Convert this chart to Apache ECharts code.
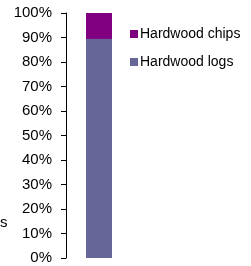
<!DOCTYPE html>
<html>
<head>
<meta charset="utf-8">
<script src="https://cdn.jsdelivr.net/npm/echarts@6/dist/echarts.min.js"></script>
<style>
  html, body { margin: 0; padding: 0; background: #fff; }
  #chart { width: 251px; height: 266px; }
</style>
</head>
<body>
<div id="chart"></div>
<script>
// 数据
const categories = ['Hardwoods'];
const logsValues = [89.4];
const chipsValues = [10.6];
const seriesNames = ['Hardwood chips', 'Hardwood logs'];
const yTicks = [0, 10, 20, 30, 40, 50, 60, 70, 80, 90, 100];

var myChart = echarts.init(document.getElementById('chart'));

var option = {
    animation: false,
    textStyle: { fontFamily: 'Liberation Sans, Arial, sans-serif' },
    grid: {
        left: 66,
        top: 13,
        width: 66,
        bottom: 8,
        containLabel: false
    },
    legend: {
        orient: 'vertical',
        left: 125,
        top: 22,
        itemWidth: 8,
        itemHeight: 8,
        itemGap: 14,
        icon: 'rect',
        data: seriesNames,
        textStyle: { fontSize: 14, color: '#000', padding: [0, 0, 0, -3] }
    },
    xAxis: {
        type: 'category',
        data: categories,
        show: false
    },
    yAxis: {
        type: 'value',
        min: yTicks[0],
        max: yTicks[yTicks.length - 1],
        interval: 10,
        axisLine: { show: true, lineStyle: { color: '#000', width: 1 } },
        axisTick: { show: true, length: 5, lineStyle: { color: '#000' } },
        splitLine: { show: false },
        axisLabel: {
            color: '#000',
            fontSize: 15,
            margin: 14,
            formatter: '{value}%'
        }
    },
    series: [
        {
            name: 'Hardwood logs',
            type: 'bar',
            stack: 'total',
            barWidth: 26,
            data: logsValues,
            itemStyle: { color: '#666699' }
        },
        {
            name: 'Hardwood chips',
            type: 'bar',
            stack: 'total',
            barWidth: 26,
            data: chipsValues,
            itemStyle: { color: '#800080' }
        }
    ],
    graphic: [{
        type: 'text',
        left: 0,
        top: 215,
        style: { text: 's', fontSize: 15, fill: '#000', fontFamily: 'Liberation Sans, Arial, sans-serif' }
    }]
};

myChart.setOption(option);
</script>
</body>
</html>
